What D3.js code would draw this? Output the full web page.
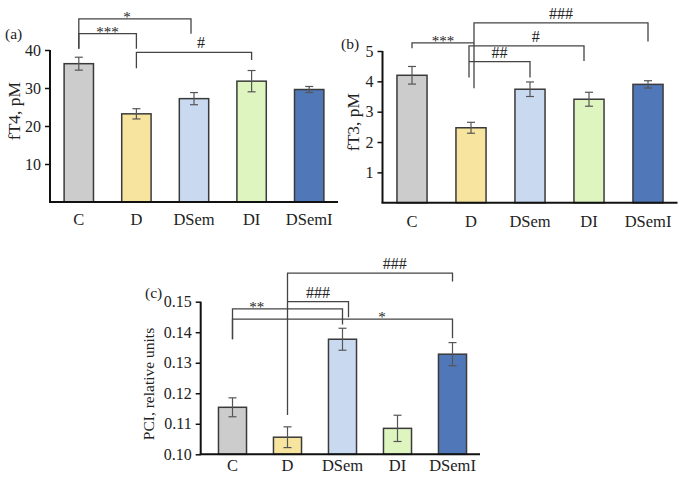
<!DOCTYPE html>
<html lang="en">
<head>
  <meta charset="UTF-8">
  <title>fT4, fT3 and PCI by group</title>
  <script src="https://d3js.org/d3.v7.min.js"></script>
  <style>
    body { margin: 0; background: #fff; }
    svg text { font-family: "Liberation Serif", "Times New Roman", serif; fill: #222; }
  </style>
</head>
<body>
  <div id="chart"></div>
  <script>
    const groups = ["C", "D", "DSem", "DI", "DSemI"];
    const barColors = ["#cdcccd", "#f7e59f", "#c9daf0", "#def5c0", "#5078b8"];

    const fT4 = [36.4, 23.2, 27.2, 31.8, 29.6];
    const fT4Err = [1.7, 1.35, 1.6, 2.8, 0.8];
    const fT4Ticks = [10, 20, 30, 40];

    const fT3 = [4.2, 2.47, 3.74, 3.41, 3.9];
    const fT3Err = [0.29, 0.18, 0.24, 0.23, 0.12];
    const fT3Ticks = [1, 2, 3, 4, 5];

    const pci = [0.1154, 0.1056, 0.1377, 0.1085, 0.1328];
    const pciErr = [0.0031, 0.0034, 0.0036, 0.0043, 0.0038];
    const pciTicks = [0.10, 0.11, 0.12, 0.13, 0.14, 0.15];

    // significance brackets, levels in data units
    const fT4Marks = [
      { a: "C", b: "DSem", level: 48.2, endA: 40.3, endB: 44.3, label: "*", t: 0.43, dxB: -3 },
      { a: "C", b: "D", level: 44.3, endA: 40.3, endB: 40.3, label: "***" },
      { a: "D", b: "DI", level: 39.4, endA: 35.2, endB: 37.4, label: "#", t: 0.56 }
    ];
    const fT3Marks = [
      { a: "C", b: "D", level: 5.27, endA: 5.09, endB: 5.27, label: "***", dxB: 3 },
      { a: "D", b: "DSemI", level: 5.93, endA: 3.77, endB: 5.31, label: "###", dxA: 3 },
      { a: "D", b: "DI", level: 5.17, endA: 4.13, endB: 4.67, label: "#", t: 0.58, dxA: -2, dxB: -5 },
      { a: "D", b: "DSem", level: 4.65, endA: 4.65, endB: 4.13, label: "##", dxA: -2 }
    ];
    const pciMarks = [
      { a: "C", b: "DSem", level: 0.14764, endA: 0.1377, endB: 0.14249, label: "**", t: 0.22 },
      { a: "C", b: "DSemI", level: 0.14426, endA: 0.1377, endB: 0.13803, label: "*", t: 0.68 },
      { a: "D", b: "DSem", level: 0.15003, endA: 0.15003, endB: 0.14492, label: "###", dxB: 6 },
      { a: "D", b: "DSemI", level: 0.15934, endA: 0.11289, endB: 0.15659, label: "###", t: 0.65 }
    ];

    const svg = d3.select("#chart").append("svg")
      .attr("width", 685)
      .attr("height", 479);

    function drawPanel(p) {
      const g = svg.append("g");

      const x = d3.scaleBand()
        .domain(groups)
        .range(p.xRange)
        .paddingInner(0.49)
        .paddingOuter(0.245);

      const y = d3.scaleLinear()
        .domain(p.domain)
        .range(p.yRange);

      const rows = groups.map((k, i) => ({ key: k, value: p.values[i], err: p.errors[i], color: barColors[i] }));

      g.selectAll("rect.bar")
        .data(rows)
        .enter()
        .append("rect")
        .attr("class", "bar")
        .attr("x", d => x(d.key))
        .attr("y", d => y(d.value))
        .attr("width", x.bandwidth())
        .attr("height", d => y(p.domain[0]) - y(d.value))
        .attr("fill", d => d.color)
        .attr("stroke", "#3a3a3a")
        .attr("stroke-width", 1.5);

      // error bars
      const eb = g.selectAll("g.err")
        .data(rows)
        .enter()
        .append("g")
        .attr("class", "err")
        .attr("stroke", "#555")
        .attr("stroke-width", 1.2);
      const cx = d => x(d.key) + x.bandwidth() / 2;
      eb.append("line")
        .attr("x1", cx).attr("x2", cx)
        .attr("y1", d => y(d.value + d.err))
        .attr("y2", d => y(d.value - d.err));
      eb.append("line")
        .attr("x1", d => cx(d) - 4).attr("x2", d => cx(d) + 4)
        .attr("y1", d => y(d.value + d.err)).attr("y2", d => y(d.value + d.err));
      eb.append("line")
        .attr("x1", d => cx(d) - 4).attr("x2", d => cx(d) + 4)
        .attr("y1", d => y(d.value - d.err)).attr("y2", d => y(d.value - d.err));

      // y axis
      const yAxis = g.append("g")
        .attr("transform", `translate(${p.axisX},0)`)
        .call(d3.axisLeft(y).tickValues(p.ticks).tickFormat(p.format).tickSize(5).tickSizeOuter(0).tickPadding(4));
      yAxis.select(".domain")
        .attr("d", `M0,${y(p.domain[0])}V${y(p.domain[1])}`)
        .attr("stroke", "#111").attr("stroke-width", 2);
      yAxis.selectAll(".tick line").attr("stroke", "#111").attr("stroke-width", 1.5);
      yAxis.selectAll(".tick text")
        .style("font-family", '"Liberation Serif", "Times New Roman", serif')
        .style("font-size", "16px")
        .attr("fill", "#222");

      // x baseline and labels
      g.append("line")
        .attr("x1", p.axisX - 1).attr("x2", p.xRange[1])
        .attr("y1", y(p.domain[0])).attr("y2", y(p.domain[0]))
        .attr("stroke", "#111").attr("stroke-width", 2);
      g.selectAll("text.xl")
        .data(groups)
        .enter()
        .append("text")
        .attr("class", "xl")
        .attr("x", d => x(d) + x.bandwidth() / 2)
        .attr("y", y(p.domain[0]) + p.labelGap)
        .attr("text-anchor", "middle")
        .style("font-size", "16.5px")
        .text(d => d);

      // y title
      g.append("text")
        .attr("transform", `translate(${p.titlePos[0]},${p.titlePos[1]}) rotate(-90)`)
        .attr("text-anchor", "middle")
        .attr("dy", "0.35em")
        .style("font-size", p.titleSize)
        .text(p.title);

      // panel letter
      g.append("text")
        .attr("x", p.letterPos[0])
        .attr("y", p.letterPos[1])
        .style("font-size", "15.5px")
        .text(p.letter);

      // brackets
      const mid = k => x(k) + x.bandwidth() / 2;
      p.marks.forEach(m => {
        const xa = mid(m.a) + (m.dxA || 0);
        const xb = mid(m.b) + (m.dxB || 0);
        const yl = y(m.level);
        g.append("path")
          .attr("d", `M${xa},${y(m.endA)}V${yl}H${xb}V${y(m.endB)}`)
          .attr("fill", "none")
          .attr("stroke", "#444")
          .attr("stroke-width", 1.3);
        const star = m.label.includes("*");
        g.append("text")
          .attr("x", xa + (xb - xa) * (m.t === undefined ? 0.5 : m.t))
          .attr("y", star ? yl + 3 : yl - 4)
          .attr("text-anchor", "middle")
          .style("font-size", star ? "15px" : "16px")
          .text(m.label);
      });
    }

    drawPanel({
      values: fT4, errors: fT4Err, ticks: fT4Ticks, marks: fT4Marks,
      domain: [0, 40], xRange: [50, 338], yRange: [202, 50], axisX: 50,
      format: d3.format("d"), labelGap: 23,
      title: "fT4, pM", titlePos: [14, 111], titleSize: "17.5px",
      letter: "(a)", letterPos: [5, 39]
    });

    drawPanel({
      values: fT3, errors: fT3Err, ticks: fT3Ticks, marks: fT3Marks,
      domain: [0, 5], xRange: [382.5, 677.5], yRange: [202.7, 51], axisX: 382.5,
      format: d3.format("d"), labelGap: 24,
      title: "fT3, pM", titlePos: [353, 122], titleSize: "17.5px",
      letter: "(b)", letterPos: [341, 49]
    });

    drawPanel({
      values: pci, errors: pciErr, ticks: pciTicks, marks: pciMarks,
      domain: [0.10, 0.15], xRange: [205, 480], yRange: [454.3, 301.7], axisX: 200.7,
      format: d3.format(".2f"), labelGap: 17,
      title: "PCI, relative units", titlePos: [149, 384], titleSize: "15.5px",
      letter: "(c)", letterPos: [145, 298]
    });
  </script>
</body>
</html>
